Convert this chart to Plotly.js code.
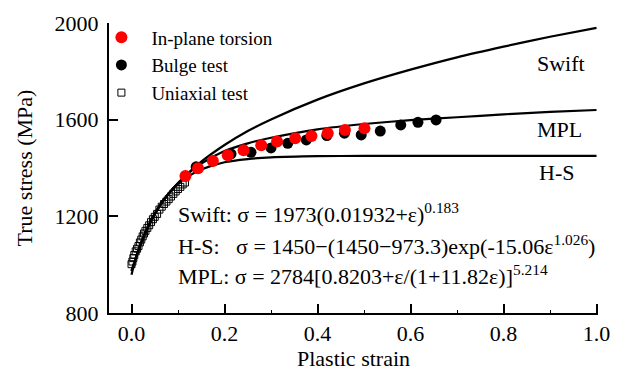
<!DOCTYPE html>
<html><head><meta charset="utf-8">
<script src="https://cdn.plot.ly/plotly-3.0.1.min.js"></script>
<style>html,body{margin:0;padding:0;background:#fff}#c{width:625px;height:374px}</style>
</head><body><div id="c"></div>
<script>
// Uniaxial test
const uniStrain = [0.000,0.002,0.004,0.006,0.009,0.012,0.015,0.018,0.021,0.024,0.027,0.030,0.034,0.038,0.042,0.046,0.050,0.055,0.060,0.065,0.070,0.075,0.080,0.085,0.090,0.095,0.100,0.105,0.110,0.115];
const uniStress = [1002,1013,1027,1040,1055,1066,1077,1092,1104,1117,1129,1140,1152,1163,1176,1188,1198,1210,1228,1240,1251,1261,1271,1282,1293,1303,1313,1322,1332,1340];
// Bulge test
const bulgeStrain = [0.139,0.214,0.257,0.300,0.336,0.376,0.420,0.458,0.494,0.535,0.579,0.616,0.655];
const bulgeStress = [1405,1458,1465,1483,1502,1516,1534,1544,1537,1553,1578,1589,1599];
// In-plane torsion
const torStrain = [0.116,0.143,0.175,0.207,0.241,0.279,0.313,0.352,0.387,0.422,0.459,0.501];
const torStress = [1367,1399,1429,1453,1473,1494,1510,1523,1532,1544,1557,1564];
// Fitted curves
const curveStrain = [0,0.01,0.02,0.04,0.06,0.08,0.10,0.12,0.15,0.20,0.25,0.30,0.40,0.50,0.60,0.70,0.80,0.90,1.00];
const swiftStress = [958,1034,1091,1177,1241,1293,1337,1375,1426,1495,1553,1601,1683,1750,1807,1858,1902,1943,1980];
const hsStress    = [973,1033,1087,1176,1244,1296,1335,1363,1394,1424,1437,1444,1449,1450,1450,1450,1450,1450,1450];
const mplStress   = [975,1030,1085,1170,1240,1295,1338,1375,1418,1470,1502,1525,1560,1582,1598,1610,1622,1632,1640];

const FONT = 'Liberation Serif, Times New Roman, serif';
const lineStyle = {color:'#000', width:2.2, shape:'spline', smoothing:0.6};

const traces = [
  {x:uniStrain, y:uniStress, mode:'markers', name:'Uniaxial test', legendrank:3,
   marker:{symbol:'square-open', size:7, color:'#000', line:{width:1}}},
  {x:curveStrain, y:swiftStress, mode:'lines', line:lineStyle, showlegend:false, hoverinfo:'skip'},
  {x:curveStrain, y:hsStress, mode:'lines', line:lineStyle, showlegend:false, hoverinfo:'skip'},
  {x:curveStrain, y:mplStress, mode:'lines', line:lineStyle, showlegend:false, hoverinfo:'skip'},
  {x:bulgeStrain, y:bulgeStress, mode:'markers', name:'Bulge test', legendrank:2,
   marker:{symbol:'circle', size:11, color:'#000'}},
  {x:torStrain, y:torStress, mode:'markers', name:'In-plane torsion', legendrank:1,
   marker:{symbol:'circle', size:12, color:'#ff0000'}}
];

const ann = (text,x,y,xanchor,size)=>({text, x, y, xref:'paper', yref:'paper', xanchor, yanchor:'middle', showarrow:false, font:{family:FONT, size:size, color:'#000'}});

const layout = {
  width:625, height:374,
  margin:{l:109, r:27, t:23, b:61},
  paper_bgcolor:'#fff', plot_bgcolor:'#fff',
  font:{family:FONT, size:22, color:'#000'},
  showlegend:true,
  legend:{x:-0.036, y:1.016, xanchor:'left', yanchor:'top', bgcolor:'rgba(0,0,0,0)', font:{family:FONT, size:19, color:'#000'}, itemwidth:50, tracegroupgap:0},
  xaxis:{range:[-0.0484,1.0032], tickvals:[0,0.2,0.4,0.6,0.8,1.0], ticktext:['0.0','0.2','0.4','0.6','0.8','1.0'],
         ticks:'inside', ticklen:9, tickwidth:2, tickcolor:'#000', showline:true, linewidth:2, linecolor:'#000',
         showgrid:false, zeroline:false, tickfont:{family:FONT,size:22},
         minor:{tickvals:[0.1,0.3,0.5,0.7,0.9], ticks:'inside', ticklen:3, tickwidth:1, tickcolor:'#000'},
         title:{text:'Plastic strain', font:{family:FONT,size:22}, standoff:4}},
  yaxis:{range:[800,2000], tickvals:[800,1200,1600,2000],
         ticks:'inside', ticklen:9, tickwidth:2, tickcolor:'#000', showline:true, linewidth:2, linecolor:'#000',
         showgrid:false, zeroline:false, tickfont:{family:FONT,size:22}, ticklabelstandoff:4,
         title:{text:'True stress (MPa)', font:{family:FONT,size:22}, standoff:16}},
  annotations:[
    ann('Swift: σ = 1973(0.01932+ε)<sup>0.183</sup>', 0.137, 0.345, 'left', 22),
    ann('H-S:\u00A0\u00A0 σ = 1450−(1450−973.3)exp(-15.06ε<sup>1.026</sup>)', 0.137, 0.234, 'left', 22),
    ann('MPL: σ = 2784[0.8203+ε/(1+11.82ε)]<sup>5.214</sup>', 0.137, 0.131, 'left', 22),
    ann('Swift', 0.924, 0.862, 'center', 22),
    ann('MPL', 0.922, 0.634, 'center', 22),
    ann('H-S', 0.916, 0.483, 'center', 22)
  ]
};
Plotly.newPlot('c', traces, layout, {displayModeBar:false, staticPlot:true});
</script></body></html>
